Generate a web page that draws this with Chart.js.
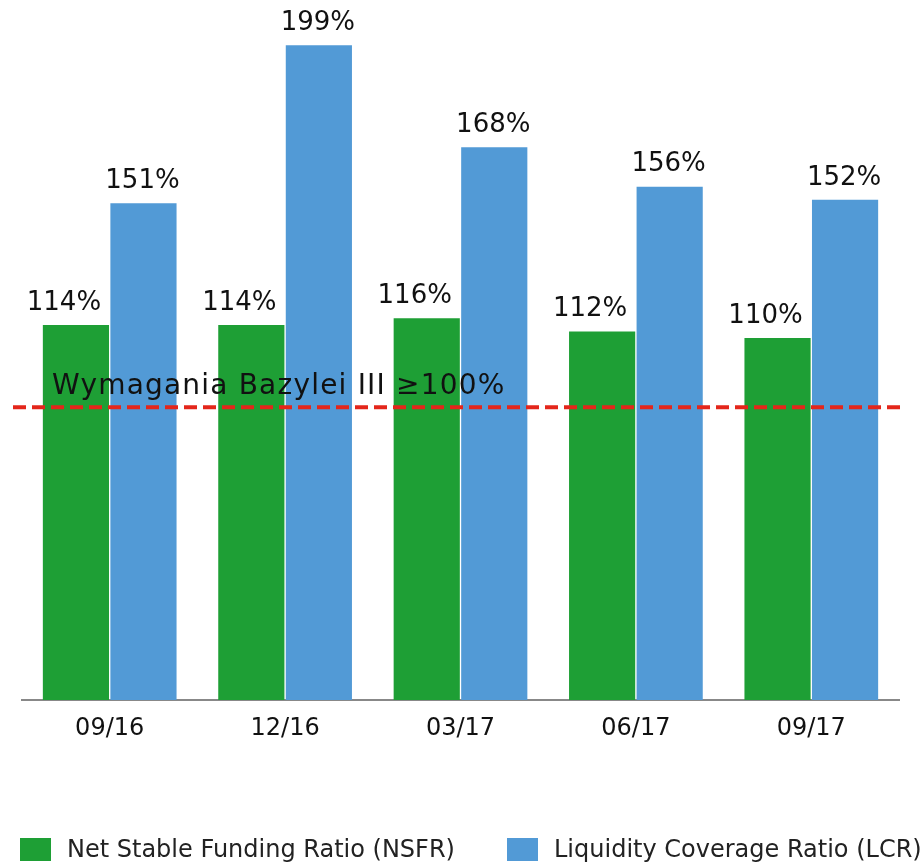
<!DOCTYPE html>
<html>
<head>
<meta charset="utf-8">
<script src="https://cdn.jsdelivr.net/npm/chart.js@4.4.0/dist/chart.umd.min.js"></script>
<style>
  html, body { margin: 0; padding: 0; background: #fff; }
  #wrap { width: 924px; height: 863px; position: relative; }
</style>
</head>
<body>
<div id="wrap"><canvas id="chart"></canvas></div>
<script>
// dane
const categories = ['09/16', '12/16', '03/17', '06/17', '09/17'];
const nsfrValues = [114, 114, 116, 112, 110];
const lcrValues = [151, 199, 168, 156, 152];
const seriesNames = ['Net Stable Funding Ratio (NSFR)', 'Liquidity Coverage Ratio (LCR)'];
const thresholdLabel = 'Wymagania Bazylei III \u2265100%';
const thresholdValue = 89; // położenie linii na skali (tak jak na obrazku)

const FONT = "'DejaVu Sans', Verdana, sans-serif";
const GREEN = '#1e9f35';
const BLUE = '#529ad6';

// etykiety nad słupkami
const valueLabels = {
    id: 'valueLabels',
    afterDatasetsDraw(chart) {
        const ctx = chart.ctx;
        ctx.save();
        ctx.font = '26px ' + FONT;
        ctx.fillStyle = '#111';
        ctx.textAlign = 'center';
        ctx.textBaseline = 'bottom';
        chart.data.datasets.forEach((ds, i) => {
            const meta = chart.getDatasetMeta(i);
            const shift = i === 0 ? -12 : -1;
            meta.data.forEach((bar, j) => {
                ctx.fillText(ds.data[j] + '%', bar.x + shift, bar.y - 9);
            });
        });
        ctx.restore();
    }
};

// linia wymagań Bazylei
const thresholdLine = {
    id: 'thresholdLine',
    afterDatasetsDraw(chart) {
        const ctx = chart.ctx;
        const y = chart.scales.y.getPixelForValue(thresholdValue);
        ctx.save();
        ctx.strokeStyle = '#e4261b';
        ctx.lineWidth = 4;
        ctx.setLineDash([13, 6]);
        ctx.beginPath();
        ctx.moveTo(13, y);
        ctx.lineTo(905, y);
        ctx.stroke();
        ctx.setLineDash([]);
        ctx.font = '28px ' + FONT;
        ctx.letterSpacing = '1.2px';
        ctx.fillStyle = '#111';
        ctx.textAlign = 'left';
        ctx.textBaseline = 'alphabetic';
        ctx.fillText(thresholdLabel, 52, y - 13);
        ctx.restore();
    }
};

// legenda na dole
const bottomLegend = {
    id: 'bottomLegend',
    afterDraw(chart) {
        const ctx = chart.ctx;
        const items = [
            { x: 20, color: GREEN, text: seriesNames[0] },
            { x: 507, color: BLUE, text: seriesNames[1] }
        ];
        ctx.save();
        ctx.font = '24px ' + FONT;
        ctx.textBaseline = 'middle';
        ctx.textAlign = 'left';
        items.forEach(it => {
            ctx.fillStyle = it.color;
            ctx.fillRect(it.x, 838, 31, 23);
            ctx.fillStyle = '#222';
            ctx.fillText(it.text, it.x + 47, 851);
        });
        ctx.restore();
    }
};

new Chart(document.getElementById('chart'), {
    type: 'bar',
    data: {
        labels: categories,
        datasets: [
            { label: seriesNames[0], data: nsfrValues, backgroundColor: GREEN },
            { label: seriesNames[1], data: lcrValues, backgroundColor: BLUE }
        ]
    },
    options: {
        responsive: true,
        maintainAspectRatio: false,
        animation: false,
        layout: { padding: { top: 9, left: 22, right: 25, bottom: 0 } },
        datasets: { bar: { categoryPercentage: 0.77, barPercentage: 0.98 } },
        plugins: {
            legend: { display: false },
            tooltip: { enabled: false }
        },
        scales: {
            x: {
                grid: { display: false, drawTicks: false },
                border: { color: '#888', width: 2 },
                ticks: { color: '#111', font: { family: FONT, size: 24 }, padding: 14 },
                afterFit(s) { s.height = 163; }
            },
            y: {
                display: false,
                min: 0,
                max: 210
            }
        }
    },
    plugins: [valueLabels, thresholdLine, bottomLegend]
});
</script>
</body>
</html>
